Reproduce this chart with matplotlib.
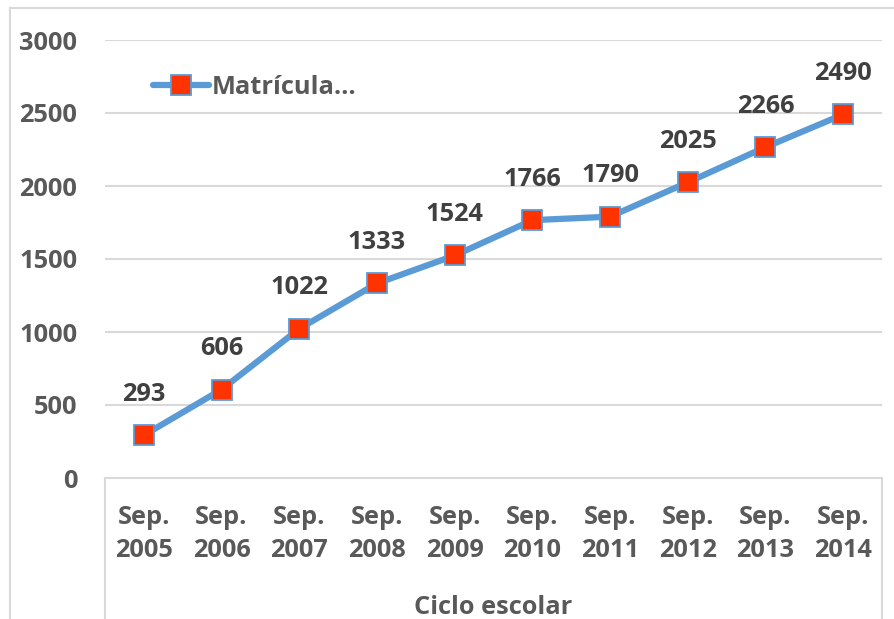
import matplotlib
matplotlib.use("Agg")
import matplotlib.pyplot as plt
from matplotlib.lines import Line2D

plt.rcParams['font.family'] = ['Open Sans', 'DejaVu Sans']
plt.rcParams['font.weight'] = 'bold'

categories = ["Sep.\n2005", "Sep.\n2006", "Sep.\n2007", "Sep.\n2008", "Sep.\n2009",
              "Sep.\n2010", "Sep.\n2011", "Sep.\n2012", "Sep.\n2013", "Sep.\n2014"]
values = [293, 606, 1022, 1333, 1524, 1766, 1790, 2025, 2266, 2490]
series_name = "Matrícula…"
x_title = "Ciclo escolar"
yticks = [0, 500, 1000, 1500, 2000, 2500, 3000]

W, H = 895, 619
fig = plt.figure(figsize=(W / 100, H / 100), dpi=100)
ax_l, ax_r, ax_b, ax_t = 105, 882, 478, 40
ax = fig.add_axes([ax_l / W, (H - ax_b) / H, (ax_r - ax_l) / W, (ax_b - ax_t) / H])

grid_c = '#D9D9D9'
tick_c = '#595959'
label_c = '#404040'
fs = 18.3

x = list(range(len(values)))
ax.plot(x, values, color='#5B9BD5', lw=4.5, marker='s', markersize=15,
        markerfacecolor='#FF3300', markeredgecolor='#5B9BD5', markeredgewidth=1.3,
        label=series_name, zorder=3, solid_capstyle='round')

for xi, v in zip(x, values):
    ax.annotate(str(v), (xi, v), xytext=(0, 41), textcoords='offset pixels',
                ha='center', va='center', fontsize=fs, fontweight='bold', color=label_c)

ax.set_xlim(-0.5, len(values) - 0.5)
ax.set_ylim(0, 3000)
ax.set_yticks(yticks)
ax.set_yticklabels([str(t) for t in yticks])
ax.set_xticks(x)
ax.set_xticklabels(categories, linespacing=1.42)
ax.tick_params(axis='y', length=0, pad=20, labelsize=fs, colors=tick_c)
ax.tick_params(axis='x', length=0, pad=19.5, labelsize=fs, colors=tick_c)
for lab in ax.get_xticklabels() + ax.get_yticklabels():
    lab.set_fontweight('bold')

ax.yaxis.grid(True, color=grid_c, lw=1.5)
ax.set_axisbelow(True)
for s in ['top', 'right', 'left']:
    ax.spines[s].set_visible(False)
ax.spines['bottom'].set_color(grid_c)
ax.spines['bottom'].set_linewidth(1.5)

# box around category labels
ext = -(H - ax_b) / (ax_b - ax_t)
for xx in (0, 1):
    ax.add_line(Line2D([xx, xx], [0, ext], transform=ax.transAxes, color=grid_c,
                       lw=1.5, clip_on=False))

ax.set_xlabel(x_title, fontsize=fs, fontweight='bold', color=tick_c, labelpad=23)

# outer chart border
fig.add_artist(Line2D([10 / W, 10 / W], [0, 1 - 8 / H], color=grid_c, lw=1.5))
fig.add_artist(Line2D([10 / W, 1], [1 - 8 / H, 1 - 8 / H], color=grid_c, lw=1.5))

leg = ax.legend(loc='center left', bbox_to_anchor=(153 / W, 1 - 87 / H),
                bbox_transform=fig.transFigure, frameon=False, fontsize=fs,
                handlelength=2.2, handletextpad=0.1, borderaxespad=0, borderpad=0)
for t in leg.get_texts():
    t.set_color(tick_c)
    t.set_fontweight('bold')

fig.savefig('out.png', dpi=100)
